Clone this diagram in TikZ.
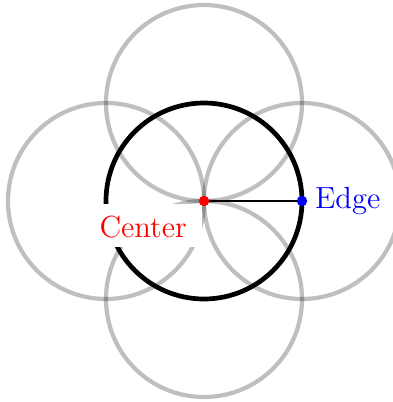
\documentclass[tikz,border=0pt]{standalone}
\begin{document}
\begin{tikzpicture}[x=0.393pt,y=-0.393pt,
  ghost/.style={draw=black, draw opacity=0.25, line width=1.65pt},
  maincircle/.style={draw=black, line width=1.85pt},
  dotnode/.style={circle, inner sep=0pt, minimum size=4.1pt},
  lbl/.style={font=\fontsize{12}{14}\selectfont}]
\useasboundingbox (0,0) rectangle (393,402);
\coordinate (c) at (204,201);
\coordinate (ct) at (204,103);
\coordinate (cl) at (106,201);
\coordinate (cr) at (302,201);
\coordinate (cb) at (204,299);
\foreach \p in {ct,cl,cr,cb} \draw[ghost] (\p) circle[radius=98];
\draw[maincircle] (c) circle[radius=98];
\draw[line width=0.5pt] (c) -- (cr);
\node[lbl, text=red, fill=white, anchor=north east, inner xsep=6.2pt, inner ysep=3.9pt, text height=9.4pt, text depth=0pt] (clabel) at (203,203) {Center};
\node[dotnode, fill=red] (cdot) at (c) {};
\node[dotnode, fill=blue] (edot) at (cr) {};
\node[lbl, text=blue, anchor=west, inner sep=2.7pt] (elabel) at (edot.east) {Edge};
\end{tikzpicture}
\end{document}
